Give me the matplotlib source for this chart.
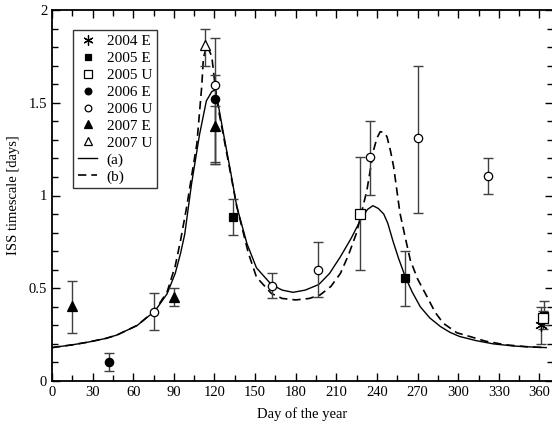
import numpy as np
import matplotlib
matplotlib.use("Agg")
import matplotlib.pyplot as plt
from matplotlib.ticker import MultipleLocator, FormatStrFormatter

plt.rcParams['font.family'] = ['Liberation Serif', 'DejaVu Serif']
plt.rcParams['font.size'] = 10.5

## measured points: day, value, lower end of error bar, upper end
e2004_day = [361]
e2004_val = [0.30]
e2004_lo = [0.20]
e2004_hi = [0.40]

e2005_day = [133.5, 260.5, 363]
e2005_val = [0.885, 0.553, 0.35]
e2005_lo = [0.787, 0.404, 0.30]
e2005_hi = [0.983, 0.70, 0.43]

u2005_day = [227.5, 362.5]
u2005_val = [0.90, 0.34]
u2005_lo = [0.60, 0.28]
u2005_hi = [1.205, 0.38]

e2006_day = [42.4, 120.5]
e2006_val = [0.10, 1.52]
e2006_lo = [0.054, 1.17]
e2006_hi = [0.149, 1.65]

u2006_day = [75.6, 120.5, 162.4, 196.8, 235, 270.3, 321.7]
u2006_val = [0.372, 1.596, 0.514, 0.60, 1.206, 1.31, 1.105]
u2006_lo = [0.275, 1.17, 0.446, 0.455, 1.003, 0.907, 1.006]
u2006_hi = [0.473, 1.85, 0.58, 0.75, 1.403, 1.70, 1.20]

e2007_day = [14.8, 89.9, 120.5]
e2007_val = [0.405, 0.451, 1.375]
e2007_lo = [0.257, 0.404, 1.18]
e2007_hi = [0.54, 0.50, 1.48]

u2007_day = [113]
u2007_val = [1.81]
u2007_lo = [1.70]
u2007_hi = [1.90]

## model curves
a_day = [0, 15, 27, 40, 48, 63, 76, 85, 91, 95, 98, 103, 109, 114, 118, 120.5,
         123, 126.6, 131.6, 136.5, 144, 151, 162, 170, 178, 187, 197, 205, 213,
         221, 228, 233, 237, 241, 245, 248, 252, 256, 261, 266, 272, 279, 287,
         294, 301, 313, 326, 342, 358, 365]
a_val = [0.18, 0.195, 0.21, 0.23, 0.248, 0.30, 0.377, 0.47, 0.58, 0.69, 0.79,
         1.06, 1.33, 1.51, 1.56, 1.57, 1.48, 1.335, 1.14, 0.94, 0.74, 0.61,
         0.52, 0.49, 0.478, 0.49, 0.52, 0.58, 0.67, 0.77, 0.87, 0.925, 0.945,
         0.93, 0.90, 0.85, 0.75, 0.66, 0.56, 0.48, 0.40, 0.34, 0.293, 0.262,
         0.24, 0.218, 0.20, 0.188, 0.182, 0.18]

b_day = [0, 15, 27, 40, 48, 63, 76, 85, 91, 95, 99.5, 103, 107, 110.6, 111.8,
         114.3, 118, 120.5, 123, 129, 136.5, 145, 151, 162, 170, 180, 190, 198,
         206, 213, 219, 225, 229, 232.6, 237.5, 240, 242.4, 245, 247.4, 250,
         252.3, 257, 261, 264.6, 270, 277, 283, 289, 299, 309, 320, 335, 350, 365]
b_val = [0.18, 0.195, 0.21, 0.23, 0.248, 0.30, 0.38, 0.48, 0.62, 0.76, 0.94,
         1.10, 1.28, 1.59, 1.74, 1.81, 1.75, 1.59, 1.46, 1.23, 0.94, 0.69,
         0.56, 0.472, 0.445, 0.437, 0.445, 0.464, 0.51, 0.58, 0.68, 0.80, 0.92,
         1.03, 1.245, 1.31, 1.344, 1.34, 1.317, 1.24, 1.155, 0.904, 0.77,
         0.652, 0.55, 0.454, 0.37, 0.311, 0.26, 0.239, 0.215, 0.195, 0.185, 0.18]

fig = plt.figure(figsize=(5.52, 4.29), dpi=100)
ax = fig.add_axes([52/552, 48/429, 501/552, 371/429])

ax.plot(a_day, a_val, color='black', lw=1.0, label='(a)', solid_joinstyle='round')
ax.plot(b_day, b_val, color='black', lw=1.2, ls=(0, (5, 3)), label='(b)')

def series(day, val, lo, hi, marker, face, size, label):
    val = np.array(val)
    yerr = [val - np.array(lo), np.array(hi) - val]
    ax.errorbar(day, val, yerr=yerr, fmt='none', ecolor='0.25', elinewidth=1.0,
                capsize=3.5, capthick=1.0, zorder=3)
    ax.plot(day, val, ls='none', marker=marker, ms=size, mfc=face, mec='black',
            mew=0.9, label=label, zorder=4)

series(e2004_day, e2004_val, e2004_lo, e2004_hi, (6, 2, 0), 'black', 9, '2004 E')
series(e2005_day, e2005_val, e2005_lo, e2005_hi, 's', 'black', 6, '2005 E')
series(u2005_day, u2005_val, u2005_lo, u2005_hi, 's', 'white', 6.5, '2005 U')
series(e2006_day, e2006_val, e2006_lo, e2006_hi, 'o', 'black', 6, '2006 E')
series(u2006_day, u2006_val, u2006_lo, u2006_hi, 'o', 'white', 6, '2006 U')
series(e2007_day, e2007_val, e2007_lo, e2007_hi, '^', 'black', 6.5, '2007 E')
series(u2007_day, u2007_val, u2007_lo, u2007_hi, '^', 'white', 6.5, '2007 U')

ax.set_xlim(0, 370)
ax.set_ylim(0, 2)
ax.set_xticks(range(0, 361, 30))
ax.xaxis.set_minor_locator(MultipleLocator(15))
ax.yaxis.set_major_locator(MultipleLocator(0.5))
ax.yaxis.set_minor_locator(MultipleLocator(0.1))
ax.yaxis.set_major_formatter(FormatStrFormatter('%g'))
ax.tick_params(which='both', direction='in', top=True, right=True, width=1.0)
ax.tick_params(which='major', length=6)
ax.tick_params(which='minor', length=4)
for s in ax.spines.values():
    s.set_linewidth(1.3)

ax.set_xlabel('Day of the year', labelpad=6)
ax.set_ylabel('ISS timescale [days]', labelpad=6)

handles, labels = ax.get_legend_handles_labels()
order = [2, 3, 4, 5, 6, 7, 8, 0, 1]
leg = ax.legend([handles[i] for i in order], [labels[i] for i in order],
                loc='upper left', bbox_to_anchor=(0.042, 0.946), frameon=True,
                fancybox=False, edgecolor='black', handlelength=1.3,
                handletextpad=0.6, labelspacing=0.21, borderpad=0.3,
                borderaxespad=0, markerscale=0.8, fontsize=11)
leg.get_frame().set_linewidth(1.0)

fig.savefig('out.png', dpi=100)
